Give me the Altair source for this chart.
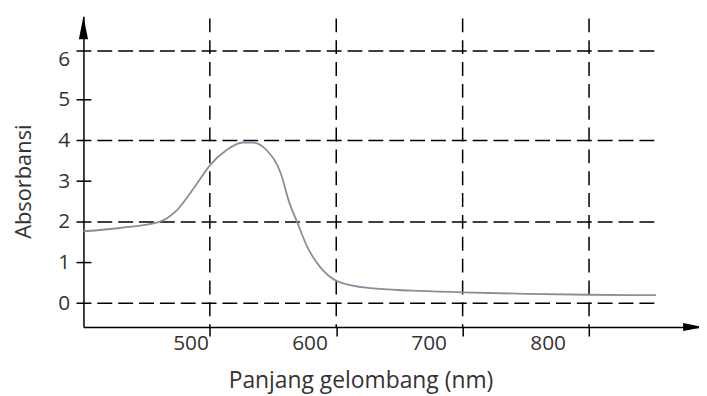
import altair as alt
import pandas as pd

# Spectrum data
wavelength = [400, 429, 460, 474, 490, 500, 513, 526, 534, 545, 556, 563, 569, 577, 587, 601, 627, 660, 700, 750, 800, 853]
absorbance = [1.77, 1.85, 2.0, 2.29, 2.95, 3.39, 3.76, 3.95, 3.95, 3.76, 3.2, 2.46, 2.0, 1.39, 0.9, 0.54, 0.37, 0.31, 0.27, 0.23, 0.21, 0.2]

x_ticks = [500, 600, 700, 800]
y_labels = [0, 1, 2, 3, 4, 5, 6]
y_grid = [0, 2, 4, 6.2]   # the top dashed line sits slightly above the "6" label in the picture
y_minor = [1, 3, 5]

W, H = 620, 313
X_DOMAIN = [400, 887]
Y_DOMAIN = [-0.585, 7.05]
FONT = "Open Sans"

curve_df = pd.DataFrame({"nm": wavelength, "abs": absorbance})
vgrid_df = pd.DataFrame({"nm": x_ticks})
hgrid_df = pd.DataFrame({"v": y_grid})
minor_df = pd.DataFrame({"v": y_minor})
one = pd.DataFrame({"a": [0]})

xs = alt.Scale(domain=X_DOMAIN, nice=False, zero=False)
ys = alt.Scale(domain=Y_DOMAIN, nice=False, zero=False)

x_axis = alt.Axis(
    values=x_ticks, grid=False, domainColor="black", domainWidth=1.5,
    tickColor="black", tickWidth=1.5, tickSize=9,
    labelOffset=alt.ExprRef("-19.5 - (datum.value - 500) * 0.074"), labelPadding=-3.5,
    labelFont=FONT, labelFontSize=21, labelColor="#333333",
    title="Panjang gelombang (nm)", titleFont=FONT, titleFontSize=23, titleFontWeight="normal",
    titleColor="#333333", titleX=279, titleY=54, titleBaseline="middle", titleAlign="center",
)
y_axis = alt.Axis(
    values=y_labels, grid=False, ticks=False, domainColor="black", domainWidth=1.5,
    labelPadding=14, labelFont=FONT, labelFontSize=21, labelColor="#333333",
    title="Absorbansi", titleFont=FONT, titleFontSize=22, titleFontWeight="normal",
    titleColor="#333333", titleX=-60, titleY=166, titleAngle=-90, titleBaseline="middle", titleAlign="center",
)

base_axes = alt.Chart(one).mark_point(opacity=0).encode(
    x=alt.X("xv:Q", scale=xs, axis=x_axis),
    y=alt.Y("yv:Q", scale=ys, axis=y_axis),
).transform_calculate(xv="400", yv="0")

hgrid = alt.Chart(hgrid_df).mark_rule(color="black", strokeWidth=1.5, strokeDash=[15, 6]).encode(
    y=alt.Y("v:Q", scale=ys),
    x=alt.datum(394.5),
    x2=alt.datum(854),
)

vgrid = alt.Chart(vgrid_df).mark_rule(color="black", strokeWidth=1.5, strokeDash=[14, 8]).encode(
    x=alt.X("nm:Q", scale=xs),
    y=alt.datum(7.0),
    y2=alt.datum(-0.585),
)

minor = alt.Chart(minor_df).mark_rule(color="black", strokeWidth=1.5).encode(
    y=alt.Y("v:Q", scale=ys),
    x=alt.value(-7),
    x2=alt.value(8),
)

curve = alt.Chart(curve_df).mark_line(color="#8c8c9c", strokeWidth=1.8, interpolate="monotone").encode(
    x=alt.X("nm:Q", scale=xs),
    y=alt.Y("abs:Q", scale=ys),
)

up_arrow = alt.Chart(one).mark_point(
    shape="M0,-1L0.4,1L-0.4,1Z", filled=True, color="black", opacity=1, size=529
).encode(x=alt.value(0), y=alt.value(11.5))

right_arrow = alt.Chart(one).mark_point(
    shape="M1,0L-1,0.4L-1,-0.4Z", filled=True, color="black", opacity=1, size=400
).encode(x=alt.value(W - 6), y=alt.value(H))

chart = alt.layer(base_axes, hgrid, vgrid, minor, curve, up_arrow, right_arrow).properties(
    width=W, height=H,
    padding={"left": 76, "top": 7, "right": 0, "bottom": 68},
    autosize=alt.AutoSizeParams(type="none"),
    background="white",
).configure_view(stroke=None)

chart.save("out.html", embed_options={"renderer": "svg", "actions": False})
